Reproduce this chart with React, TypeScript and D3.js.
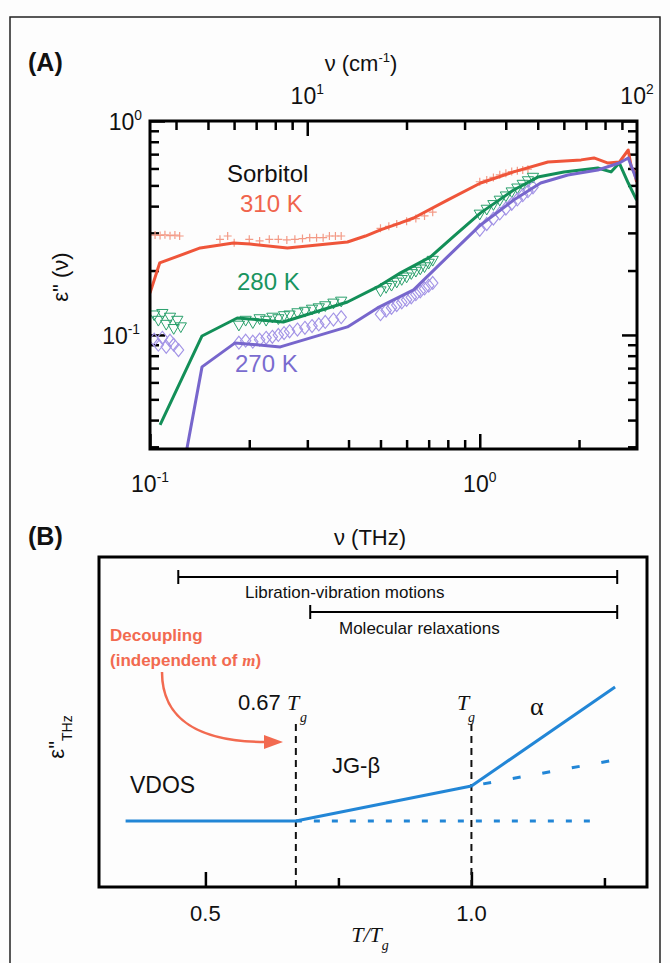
import React, { useEffect, useRef } from 'react';
import * as d3 from 'd3';

const W = 670;
const H = 963;
const SANS = '"Liberation Sans", Arial, Helvetica, sans-serif';
const SERIF = '"Liberation Serif", "Times New Roman", serif';
const CM_PER_THZ = 33.356;

// ---- panel A: dielectric loss of sorbitol, x in THz ----
const line310Thz = [0.1, 0.107, 0.142, 0.179, 0.201, 0.261, 0.397, 0.45, 0.5, 0.575, 0.63, 0.798, 1.006, 1.267, 1.61, 2.03, 2.22, 2.45, 2.65, 2.82, 2.88, 2.94, 2.99];
const line310Eps = [0.157, 0.217, 0.255, 0.269, 0.266, 0.255, 0.272, 0.29, 0.31, 0.334, 0.352, 0.427, 0.513, 0.578, 0.643, 0.658, 0.672, 0.636, 0.643, 0.732, 0.61, 0.58, 0.519];

const line280Thz = [0.1073, 0.1438, 0.1839, 0.2536, 0.397, 0.4897, 0.575, 0.709, 0.83, 1.006, 1.267, 1.5, 1.8, 2.28, 2.5, 2.65, 2.82, 2.99];
const line280Eps = [0.038, 0.0989, 0.12, 0.115, 0.1426, 0.1676, 0.195, 0.2315, 0.287, 0.372, 0.476, 0.547, 0.578, 0.603, 0.578, 0.636, 0.513, 0.427];

const line270Thz = [0.1259, 0.1438, 0.1812, 0.2484, 0.397, 0.4897, 0.63, 0.798, 1.006, 1.267, 1.53, 1.85, 2.28, 2.65, 2.82, 2.99];
const line270Eps = [0.0234, 0.0709, 0.0918, 0.0879, 0.109, 0.1337, 0.1623, 0.2315, 0.3267, 0.427, 0.513, 0.5595, 0.59, 0.636, 0.672, 0.53];

// measured points (markers)
const pts310Thz = [0.1036, 0.1073, 0.111, 0.115, 0.119, 0.123, 0.163, 0.172, 0.18, 0.2, 0.215, 0.23, 0.245, 0.26, 0.275, 0.29, 0.305, 0.32, 0.335, 0.35, 0.365, 0.38, 0.5, 0.53, 0.56, 0.6, 0.64, 0.68, 0.72, 1.0, 1.05, 1.1, 1.15, 1.2, 1.25, 1.3, 1.35, 1.4];
const pts310Eps = [0.293, 0.292, 0.294, 0.291, 0.293, 0.29, 0.28, 0.29, 0.27, 0.28, 0.275, 0.28, 0.28, 0.278, 0.28, 0.282, 0.285, 0.285, 0.285, 0.29, 0.29, 0.29, 0.315, 0.322, 0.33, 0.34, 0.35, 0.36, 0.375, 0.52, 0.53, 0.545, 0.56, 0.57, 0.58, 0.585, 0.59, 0.595];

const pts280Thz = [0.103, 0.106, 0.109, 0.112, 0.115, 0.118, 0.121, 0.124, 0.186, 0.195, 0.205, 0.215, 0.225, 0.235, 0.245, 0.255, 0.265, 0.28, 0.295, 0.31, 0.325, 0.34, 0.36, 0.38, 0.5, 0.52, 0.54, 0.56, 0.58, 0.6, 0.62, 0.64, 0.66, 0.68, 0.7, 0.72, 1.0, 1.05, 1.1, 1.15, 1.2, 1.25, 1.3, 1.35, 1.4, 1.45];
const pts280Eps = [0.125, 0.118, 0.127, 0.113, 0.122, 0.108, 0.118, 0.11, 0.112, 0.118, 0.115, 0.12, 0.118, 0.122, 0.12, 0.124, 0.125, 0.128, 0.13, 0.133, 0.135, 0.138, 0.142, 0.145, 0.162, 0.168, 0.172, 0.178, 0.183, 0.188, 0.195, 0.2, 0.205, 0.21, 0.218, 0.225, 0.37, 0.39, 0.41, 0.43, 0.45, 0.47, 0.49, 0.51, 0.53, 0.55];

const pts270Thz = [0.103, 0.106, 0.109, 0.112, 0.115, 0.118, 0.122, 0.186, 0.195, 0.205, 0.215, 0.225, 0.235, 0.245, 0.255, 0.265, 0.28, 0.295, 0.31, 0.325, 0.34, 0.36, 0.38, 0.5, 0.52, 0.54, 0.56, 0.58, 0.6, 0.62, 0.64, 0.66, 0.68, 0.7, 0.72, 1.0, 1.05, 1.1, 1.15, 1.2, 1.25, 1.3, 1.35, 1.4, 1.45];
const pts270Eps = [0.095, 0.09, 0.097, 0.088, 0.094, 0.09, 0.085, 0.092, 0.094, 0.093, 0.095, 0.097, 0.098, 0.1, 0.102, 0.104, 0.106, 0.108, 0.11, 0.112, 0.115, 0.118, 0.121, 0.125, 0.13, 0.134, 0.138, 0.142, 0.146, 0.15, 0.155, 0.16, 0.165, 0.17, 0.175, 0.31, 0.33, 0.35, 0.37, 0.39, 0.41, 0.43, 0.45, 0.47, 0.49];

const majorThz = [0.1, 1];
const minorThz = [0.2, 0.3, 0.4, 0.5, 0.6, 0.7, 0.8, 0.9, 2];
const majorCm = [10];
const minorCm = [4, 5, 6, 7, 8, 9, 20, 30, 40, 50, 60, 70, 80, 90];
const majorEps = [0.1, 1];
const minorEps = [0.03, 0.04, 0.05, 0.06, 0.07, 0.08, 0.09, 0.2, 0.3, 0.4, 0.5, 0.6, 0.7, 0.8, 0.9];

// ---- panel B: schematic vs T/Tg ----
const solidT = [0.35, 0.67, 1.0, 1.27];
const solidE = [0.2, 0.2, 0.306, 0.606];
const betaExtT = [1.0, 1.27];
const betaExtE = [0.306, 0.385];
const vdosExtT = [0.67, 1.245];
const vdosExtE = [0.2, 0.2];
const markerT = [0.67, 1.0];
const librationRange = [0.449, 1.274];
const molecularRange = [0.697, 1.274];
const bMajorTicks = [0.5, 1.0];
const bMinorTicks = [0.75, 1.25];

const RED = '#ef553a';
const GREEN = '#138f58';
const PURPLE = '#7766cc';
const BLUE = '#2286d6';

function App() {
  const svgRef = useRef(null);

  useEffect(() => {
    document.body.style.margin = '0';
    const svg = d3.select(svgRef.current);
    svg.selectAll('*').remove();

    svg.append('rect').attr('width', W).attr('height', H).attr('fill', '#fdfdfd');
    svg.append('rect')
      .attr('x', 10).attr('y', 17).attr('width', 650).attr('height', 980)
      .attr('fill', 'none').attr('stroke', '#222').attr('stroke-width', 1.5);

    const pow10 = (g, px, py, exp, anchor, size) => {
      const t = g.append('text')
        .attr('x', px).attr('y', py)
        .attr('text-anchor', anchor)
        .attr('font-family', SANS).attr('font-size', size).attr('fill', '#111');
      t.append('tspan').text('10');
      t.append('tspan').attr('dy', -size * 0.42).attr('font-size', size * 0.6).text(exp);
    };

    const label = (g, px, py, txt, opts = {}) => g.append('text')
      .attr('x', px).attr('y', py)
      .attr('text-anchor', opts.anchor || 'start')
      .attr('font-family', opts.family || SANS)
      .attr('font-size', opts.size || 22)
      .attr('font-weight', opts.weight || 'normal')
      .attr('font-style', opts.style || 'normal')
      .attr('fill', opts.fill || '#111')
      .text(txt);

    // ================= Panel A =================
    const A = { left: 150, right: 637, top: 121, bottom: 449 };
    const x = d3.scaleLog().domain([0.1, 2.998]).range([A.left, A.right]);
    const xCm = d3.scaleLog().domain([0.1 * CM_PER_THZ, 2.998 * CM_PER_THZ]).range([A.left, A.right]);
    const y = d3.scaleLog().domain([0.0293, 1]).range([A.bottom, A.top]);

    const gA = svg.append('g');
    gA.append('clipPath').attr('id', 'clipA')
      .append('rect').attr('x', A.left).attr('y', A.top)
      .attr('width', A.right - A.left).attr('height', A.bottom - A.top);

    const tickAxis = (gen, tr, vals, size) => {
      const g = gA.append('g').attr('transform', tr)
        .call(gen.tickValues(vals).tickSize(-size).tickFormat(() => ''));
      g.select('.domain').remove();
      g.selectAll('line').attr('stroke', '#000').attr('stroke-width', 2.5);
    };
    tickAxis(d3.axisBottom(x), `translate(0,${A.bottom})`, majorThz, 15);
    tickAxis(d3.axisBottom(x), `translate(0,${A.bottom})`, minorThz, 9);
    tickAxis(d3.axisTop(xCm), `translate(0,${A.top})`, majorCm, 15);
    tickAxis(d3.axisTop(xCm), `translate(0,${A.top})`, minorCm, 9);
    tickAxis(d3.axisLeft(y), `translate(${A.left},0)`, majorEps, 15);
    tickAxis(d3.axisLeft(y), `translate(${A.left},0)`, minorEps, 9);
    tickAxis(d3.axisRight(y), `translate(${A.right},0)`, majorEps, 15);
    tickAxis(d3.axisRight(y), `translate(${A.right},0)`, minorEps, 9);

    // markers
    const plot = gA.append('g').attr('clip-path', 'url(#clipA)');
    const zip = (xs, ys) => xs.map((v, i) => [v, ys[i]]);

    plot.append('g').selectAll('path')
      .data(zip(pts310Thz, pts310Eps)).enter().append('path')
      .attr('d', d => `M${x(d[0]) - 4},${y(d[1])}h8M${x(d[0])},${y(d[1]) - 4}v8`)
      .attr('stroke', '#f39a86').attr('stroke-width', 1.2).attr('fill', 'none');

    const tri = d3.symbol().type(d3.symbolTriangle).size(55);
    plot.append('g').selectAll('path')
      .data(zip(pts280Thz, pts280Eps)).enter().append('path')
      .attr('d', tri)
      .attr('transform', d => `translate(${x(d[0])},${y(d[1])}) rotate(180)`)
      .attr('stroke', '#2aa06c').attr('stroke-width', 1).attr('fill', 'none');

    const dia = d3.symbol().type(d3.symbolDiamond).size(60);
    plot.append('g').selectAll('path')
      .data(zip(pts270Thz, pts270Eps)).enter().append('path')
      .attr('d', dia)
      .attr('transform', d => `translate(${x(d[0])},${y(d[1])}) scale(1.25,0.9)`)
      .attr('stroke', '#a394e6').attr('stroke-width', 1).attr('fill', 'none');

    const lineA = d3.line().x(d => x(d[0])).y(d => y(d[1]));
    [[line310Thz, line310Eps, RED], [line280Thz, line280Eps, GREEN], [line270Thz, line270Eps, PURPLE]]
      .forEach(([xs, ys, c]) => {
        plot.append('path').datum(zip(xs, ys)).attr('d', lineA)
          .attr('fill', 'none').attr('stroke', c).attr('stroke-width', 3)
          .attr('stroke-linejoin', 'round');
      });

    gA.append('rect')
      .attr('x', A.left).attr('y', A.top)
      .attr('width', A.right - A.left).attr('height', A.bottom - A.top)
      .attr('fill', 'none').attr('stroke', '#000').attr('stroke-width', 3);

    // tick labels
    pow10(gA, x(0.1), 492, '-1', 'middle', 23);
    pow10(gA, x(1), 492, '0', 'middle', 23);
    pow10(gA, xCm(10), 104, '1', 'middle', 23);
    pow10(gA, xCm(100), 104, '2', 'middle', 23);
    pow10(gA, 142, y(1) + 9, '0', 'end', 23);
    pow10(gA, 140, y(0.1) + 9, '-1', 'end', 23);

    label(gA, 28, 71, '(A)', { size: 25, weight: 'bold' });
    const tTop = label(gA, 361, 71, 'ν (cm', { size: 22, anchor: 'middle' });
    tTop.append('tspan').attr('dy', -9).attr('font-size', 13).text('-1');
    tTop.append('tspan').attr('dy', 9).text(')');

    const yl = gA.append('text')
      .attr('transform', 'translate(68,277) rotate(-90)')
      .attr('text-anchor', 'middle').attr('font-family', SANS).attr('font-size', 22).attr('fill', '#111');
    yl.text('ε" (ν)');

    label(gA, 227, 182, 'Sorbitol', { size: 24 });
    label(gA, 240, 212, '310 K', { size: 24, fill: '#f0644c' });
    label(gA, 237, 290, '280 K', { size: 24, fill: '#199460' });
    label(gA, 235, 372, '270 K', { size: 24, fill: '#7a6ccf' });

    // ================= Panel B =================
    const B = { left: 99, right: 647, top: 557, bottom: 887 };
    const bx = d3.scaleLinear().domain([0.3, 1.33]).range([B.left, B.right]);
    const by = d3.scaleLinear().domain([0, 1]).range([B.bottom, B.top]);
    const gB = svg.append('g');

    label(gB, 28, 545, '(B)', { size: 25, weight: 'bold' });
    label(gB, 370, 545, 'ν (THz)', { size: 22, anchor: 'middle' });

    // ticks
    const tb = (vals, size) => {
      const g = gB.append('g').attr('transform', `translate(0,${B.bottom})`)
        .call(d3.axisBottom(bx).tickValues(vals).tickSize(-size).tickFormat(() => ''));
      g.select('.domain').remove();
      g.selectAll('line').attr('stroke', '#000').attr('stroke-width', 2.5);
    };
    tb(bMajorTicks, 15);
    tb(bMinorTicks, 9);
    bMajorTicks.forEach(v => label(gB, bx(v), 921, d3.format('.1f')(v), { size: 22, anchor: 'middle' }));

    const xl = gB.append('text').attr('x', 370).attr('y', 942).attr('text-anchor', 'middle')
      .attr('font-family', SERIF).attr('font-style', 'italic').attr('font-size', 22).attr('fill', '#111');
    xl.append('tspan').text('T/T');
    xl.append('tspan').attr('dy', 8).attr('font-size', 14).text('g');

    const ylB = gB.append('text')
      .attr('transform', 'translate(64,737) rotate(-90)')
      .attr('text-anchor', 'middle').attr('font-family', SANS).attr('font-size', 22).attr('fill', '#111');
    ylB.append('tspan').text('ε"');
    ylB.append('tspan').attr('dy', 8).attr('font-size', 14).text('THz');

    // range bars
    [[librationRange, 577, 'Libration-vibration motions', 245, 598], [molecularRange, 612, 'Molecular relaxations', 339, 634]]
      .forEach(([r, yy, txt, tx, ty]) => {
        gB.append('line').attr('x1', bx(r[0])).attr('x2', bx(r[1])).attr('y1', yy).attr('y2', yy)
          .attr('stroke', '#000').attr('stroke-width', 2);
        r.forEach(v => gB.append('line').attr('x1', bx(v)).attr('x2', bx(v))
          .attr('y1', yy - 7).attr('y2', yy + 7).attr('stroke', '#000').attr('stroke-width', 2));
        label(gB, tx, ty, txt, { size: 17 });
      });

    // vertical markers
    markerT.forEach(v => gB.append('line')
      .attr('x1', bx(v)).attr('x2', bx(v)).attr('y1', 724).attr('y2', B.bottom)
      .attr('stroke', '#111').attr('stroke-width', 2).attr('stroke-dasharray', '7,5'));

    const lineB = d3.line().x(d => bx(d[0])).y(d => by(d[1]));
    gB.append('path').datum(zip(vdosExtT, vdosExtE)).attr('d', lineB)
      .attr('fill', 'none').attr('stroke', BLUE).attr('stroke-width', 3).attr('stroke-dasharray', '6,12');
    gB.append('path').datum(zip(betaExtT, betaExtE)).attr('d', lineB)
      .attr('fill', 'none').attr('stroke', BLUE).attr('stroke-width', 3).attr('stroke-dasharray', '0,12,8,10');
    gB.append('path').datum(zip(solidT, solidE)).attr('d', lineB)
      .attr('fill', 'none').attr('stroke', BLUE).attr('stroke-width', 3).attr('stroke-linejoin', 'round');

    gB.append('rect')
      .attr('x', B.left).attr('y', B.top)
      .attr('width', B.right - B.left).attr('height', B.bottom - B.top)
      .attr('fill', 'none').attr('stroke', '#000').attr('stroke-width', 3);

    // annotations
    label(gB, 110, 641, 'Decoupling', { size: 17, weight: 'bold', fill: '#f26a50' });
    const ind = label(gB, 110, 666, '(independent of ', { size: 17, weight: 'bold', fill: '#f26a50' });
    ind.append('tspan').attr('font-family', SERIF).attr('font-style', 'italic').text('m');
    ind.append('tspan').text(')');

    gB.append('path').attr('d', 'M162,672 C162,720 200,742 266,742')
      .attr('fill', 'none').attr('stroke', '#f26a50').attr('stroke-width', 2.5);
    gB.append('path').attr('d', 'M264,735 L283,742 L264,749 Z').attr('fill', '#f26a50');

    const t067 = label(gB, 238, 710, '0.67 ', { size: 22 });
    t067.append('tspan').attr('font-family', SERIF).attr('font-style', 'italic').text('T');
    label(gB, 300, 722, 'g', { size: 14, family: SERIF, style: 'italic' });

    label(gB, 457, 710, 'T', { size: 22, family: SERIF, style: 'italic' });
    label(gB, 468, 722, 'g', { size: 14, family: SERIF, style: 'italic' });

    label(gB, 530, 715, 'α', { size: 26, family: SERIF });
    label(gB, 332, 773, 'JG-β', { size: 22 });
    label(gB, 130, 793, 'VDOS', { size: 23 });
  }, []);

  return <svg ref={svgRef} width={W} height={H} style={{ display: 'block' }} />;
}

export default App;
